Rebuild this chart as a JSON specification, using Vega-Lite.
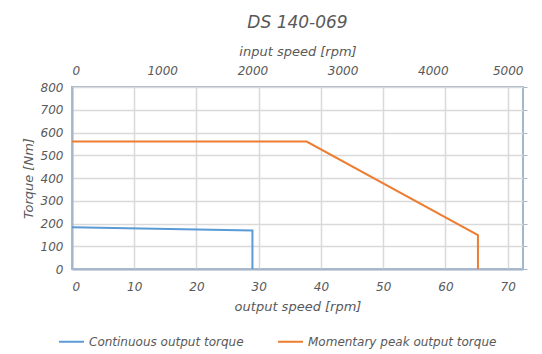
{
  "$schema": "https://vega.github.io/schema/vega-lite/v6.json",
  "width": 451,
  "height": 182,
  "autosize": "none",
  "padding": {"left": 72, "top": 87, "right": 19, "bottom": 85},
  "background": "white",
  "config": {
    "font": "DejaVu Sans",
    "view": {"stroke": "#a3b6ca", "strokeWidth": 2},
    "axis": {
      "labelFont": "DejaVu Sans",
      "labelFontSize": 12,
      "labelFontStyle": "italic",
      "labelColor": "#595959",
      "titleFont": "DejaVu Sans",
      "titleFontSize": 13,
      "titleFontStyle": "italic",
      "titleFontWeight": "normal",
      "titleColor": "#595959",
      "ticks": false,
      "domainColor": "#a3b6ca",
      "domainWidth": 2
    },
    "legend": {
      "labelFont": "DejaVu Sans",
      "labelFontSize": 12,
      "labelFontStyle": "italic",
      "labelColor": "#595959",
      "labelLimit": 0
    }
  },
  "title": {
    "text": "DS 140-069",
    "font": "DejaVu Sans",
    "fontSize": 17,
    "fontStyle": "italic",
    "fontWeight": "normal",
    "color": "#595959",
    "anchor": "middle",
    "offset": 13
  },
  "data": {
    "values": [
      {"series": "Continuous output torque", "i": 0, "out": 0, "inp": 0, "torque": 184},
      {"series": "Continuous output torque", "i": 1, "out": 28.99, "inp": 2000, "torque": 169},
      {"series": "Continuous output torque", "i": 2, "out": 28.99, "inp": 2000, "torque": 0},
      {"series": "Momentary peak output torque", "i": 0, "out": 0, "inp": 0, "torque": 560},
      {"series": "Momentary peak output torque", "i": 1, "out": 37.7, "inp": 2600, "torque": 560},
      {"series": "Momentary peak output torque", "i": 2, "out": 65.22, "inp": 4500, "torque": 149},
      {"series": "Momentary peak output torque", "i": 3, "out": 65.22, "inp": 4500, "torque": 0}
    ]
  },
  "layer": [
    {
      "mark": {"type": "line", "strokeWidth": 2},
      "encoding": {
        "x": {
          "field": "out",
          "type": "quantitative",
          "scale": {"domain": [0, 72.46], "nice": false, "zero": false},
          "axis": {
            "orient": "bottom",
            "values": [0, 10, 20, 30, 40, 50, 60, 70],
            "title": "output speed [rpm]",
            "labelPadding": 12,
            "titlePadding": 8,
            "gridColor": "#d9d9d9",
            "gridWidth": 1.5
          }
        },
        "y": {
          "field": "torque",
          "type": "quantitative",
          "scale": {"domain": [0, 800], "nice": false},
          "axis": {
            "orient": "left",
            "values": [0, 100, 200, 300, 400, 500, 600, 700, 800],
            "title": "Torque [Nm]",
            "labelPadding": 9,
            "titlePadding": 5,
            "gridColor": "#d9d9d9",
            "gridWidth": 1.5
          }
        },
        "color": {
          "field": "series",
          "type": "nominal",
          "scale": {
            "domain": ["Continuous output torque", "Momentary peak output torque"],
            "range": ["#5b9bd5", "#ed7d31"]
          },
          "legend": {
            "orient": "none",
            "legendX": -14,
            "legendY": 241,
            "direction": "horizontal",
            "title": null,
            "symbolType": "stroke",
            "symbolSize": 625,
            "symbolStrokeWidth": 2,
            "labelOffset": 4,
            "columnPadding": 30
          }
        },
        "order": {"field": "i", "type": "quantitative"}
      }
    },
    {
      "mark": {"type": "line", "opacity": 0},
      "encoding": {
        "x": {
          "field": "inp",
          "type": "quantitative",
          "scale": {"domain": [0, 5000], "nice": false, "zero": false},
          "axis": {
            "orient": "top",
            "values": [0, 1000, 2000, 3000, 4000, 5000],
            "format": "d",
            "title": "input speed [rpm]",
            "labelPadding": 10,
            "titlePadding": 6,
            "domain": false,
            "gridColor": "#c8c8c8",
            "gridWidth": 1,
            "gridDash": [1, 2]
          }
        },
        "y": {
          "field": "torque",
          "type": "quantitative",
          "axis": {
            "orient": "right",
            "values": [0, 100, 200, 300, 400, 500, 600, 700, 800],
            "labels": false,
            "title": null,
            "grid": false,
            "domain": false,
            "ticks": true,
            "tickSize": 4,
            "tickColor": "#a3b6ca"
          }
        },
        "detail": {"field": "series", "type": "nominal"},
        "order": {"field": "i", "type": "quantitative"}
      }
    }
  ],
  "resolve": {"scale": {"x": "independent"}, "axis": {"y": "independent"}}
}
